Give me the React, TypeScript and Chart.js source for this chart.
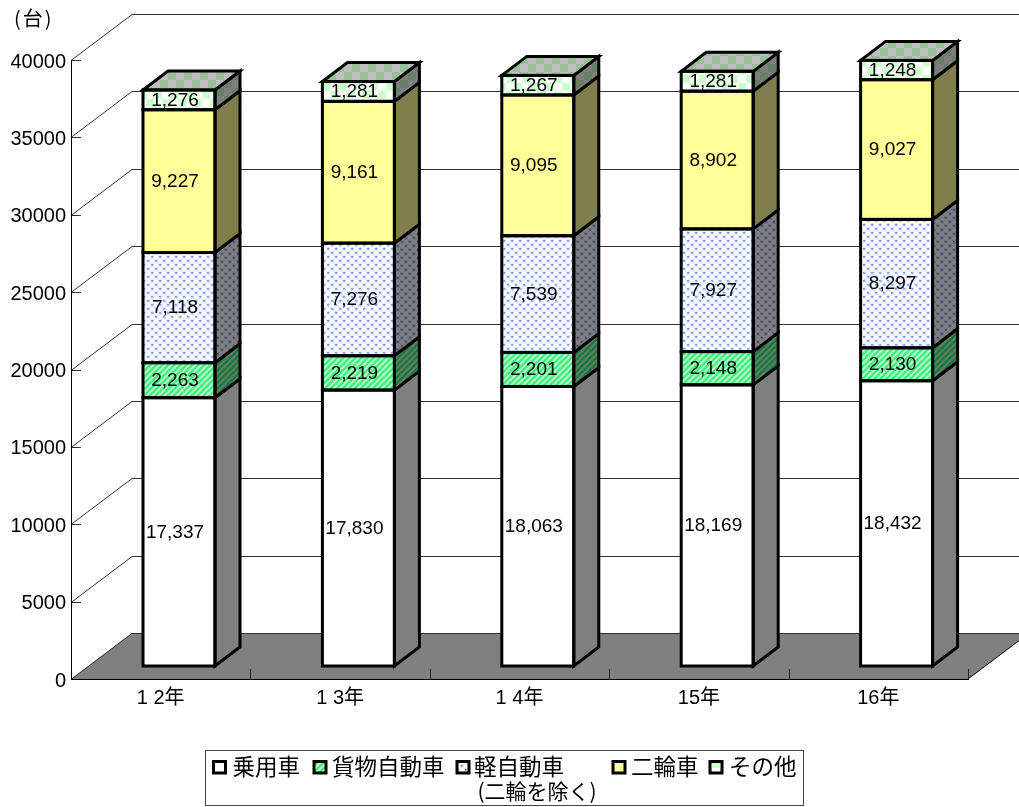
import React, { useEffect, useRef } from "react";
import { Chart, registerables } from "chart.js";

Chart.register(...registerables);

const categories = ["1 2年", "1 3年", "1 4年", "15年", "16年"];
const seriesNames = ["乗用車", "貨物自動車", "軽自動車", "二輪車", "その他"];
const legendNote = "(二輪を除く)";
const unitLabel = "(台)";
const passenger = [17337, 17830, 18063, 18169, 18432];
const cargo = [2263, 2219, 2201, 2148, 2130];
const lightCars = [7118, 7276, 7539, 7927, 8297];
const twoWheel = [9227, 9161, 9095, 8902, 9027];
const other = [1276, 1281, 1267, 1281, 1248];
const yTicksMax = 40000;
const yTickStep = 5000;

const LATIN = '"Liberation Sans", Arial, sans-serif';
const MIXED = '"Liberation Sans", "Noto Sans CJK JP", sans-serif';
const CJK = '"Noto Sans CJK JP", sans-serif';

const WALL = { dx: 61, dy: -46 };
const BAR_DEPTH = { dx: 25, dy: -19 };
const BAR_SHIFT = { dx: 18.3, dy: -13 };

type Kind = "white" | "diag" | "dots" | "yellow" | "check";
const kinds: Kind[] = ["white", "diag", "dots", "yellow", "check"];

function makePattern(kind: Kind, shade: number): CanvasPattern | string {
  const size = kind === "check" ? 16 : kind === "diag" ? 6 : 8;
  const c = document.createElement("canvas");
  c.width = size;
  c.height = size;
  const g = c.getContext("2d")!;
  if (kind === "white") {
    g.fillStyle = "#ffffff";
    g.fillRect(0, 0, size, size);
  } else if (kind === "yellow") {
    g.fillStyle = "#ffff99";
    g.fillRect(0, 0, size, size);
  } else if (kind === "check") {
    g.fillStyle = "#ffffff";
    g.fillRect(0, 0, size, size);
    g.fillStyle = "#ccffcc";
    g.fillRect(0, 0, 8, 8);
    g.fillRect(8, 8, 8, 8);
  } else if (kind === "dots") {
    g.fillStyle = "#ffffff";
    g.fillRect(0, 0, size, size);
    for (const [x, y] of [[1, 1], [5, 5]]) {
      g.fillStyle = "#e2e9ff";
      g.fillRect(x - 1, y - 1, 4, 4);
      g.fillStyle = "#9db4ff";
      g.fillRect(x, y, 2, 2);
      g.fillStyle = "#4a6cf5";
      g.fillRect(x, y, 1, 1);
    }
  } else {
    g.fillStyle = "#c8ffdc";
    g.fillRect(0, 0, size, size);
    g.strokeStyle = "#3fee78";
    g.lineWidth = 2.6;
    for (const o of [-6, 0, 6]) {
      g.beginPath();
      g.moveTo(o - 1, 7);
      g.lineTo(o + 7, -1);
      g.stroke();
    }
  }
  if (shade < 1) {
    g.fillStyle = `rgba(0,0,0,${1 - shade})`;
    g.fillRect(0, 0, size, size);
  }
  return g.createPattern(c, "repeat")!;
}

const scene3d = {
  id: "scene3d",
  beforeDraw(chart: any) {
    const { ctx, chartArea: a, scales } = chart;
    const y = scales.y;
    const zero = y.getPixelForValue(0);
    ctx.save();
    // floor
    ctx.fillStyle = "#808080";
    ctx.beginPath();
    ctx.moveTo(a.left, zero);
    ctx.lineTo(a.right, zero);
    ctx.lineTo(a.right + WALL.dx, zero + WALL.dy);
    ctx.lineTo(a.left + WALL.dx, zero + WALL.dy);
    ctx.closePath();
    ctx.fill();
    // right floor edge
    ctx.strokeStyle = "#000";
    ctx.lineWidth = 1;
    ctx.beginPath();
    ctx.moveTo(a.right, zero);
    ctx.lineTo(a.right + WALL.dx, zero + WALL.dy);
    ctx.stroke();
    // grid lines running over the side wall and the back wall
    ctx.strokeStyle = "#333";
    ctx.lineWidth = 1;
    for (const t of y.ticks) {
      const p = Math.round(y.getPixelForValue(t.value)) + 0.5;
      ctx.beginPath();
      ctx.moveTo(a.left, p);
      ctx.lineTo(a.left + WALL.dx, p + WALL.dy);
      ctx.lineTo(a.right + WALL.dx, p + WALL.dy);
      ctx.stroke();
      // inward tick
      ctx.beginPath();
      ctx.moveTo(a.left, p);
      ctx.lineTo(a.left + 10, p);
      ctx.stroke();
    }
    // inward category ticks
    const n = chart.data.labels.length;
    ctx.strokeStyle = "#222";
    for (let i = 1; i <= n; i++) {
      const x = Math.round(a.left + ((a.right - a.left) * i) / n) + 0.5;
      ctx.beginPath();
      ctx.moveTo(x, zero);
      ctx.lineTo(x, zero - 10);
      ctx.stroke();
    }
    ctx.restore();
  },
  beforeDatasetsDraw(chart: any) {
    chart.ctx.save();
    chart.ctx.translate(BAR_SHIFT.dx, BAR_SHIFT.dy);
  },
  afterDatasetsDraw(chart: any, _args: any, opts: any) {
    const { ctx } = chart;
    ctx.restore();
    ctx.save();
    ctx.lineJoin = "miter";
    ctx.strokeStyle = "#000";
    ctx.lineWidth = 3;
    const count = chart.data.datasets.length;
    chart.data.datasets.forEach((_ds: any, di: number) => {
      const meta = chart.getDatasetMeta(di);
      meta.data.forEach((bar: any) => {
        const { x, y, base, width } = bar.getProps(["x", "y", "base", "width"]);
        const l = x - width / 2 + BAR_SHIFT.dx;
        const r = x + width / 2 + BAR_SHIFT.dx;
        const t = y + BAR_SHIFT.dy;
        const b = base + BAR_SHIFT.dy;
        const d = BAR_DEPTH;
        // side face
        ctx.fillStyle = opts.side[di];
        ctx.beginPath();
        ctx.moveTo(r, t);
        ctx.lineTo(r + d.dx, t + d.dy);
        ctx.lineTo(r + d.dx, b + d.dy);
        ctx.lineTo(r, b);
        ctx.closePath();
        ctx.fill();
        ctx.stroke();
        // top face of the stack
        if (di === count - 1) {
          ctx.fillStyle = opts.top[di];
          ctx.beginPath();
          ctx.moveTo(l, t);
          ctx.lineTo(l + d.dx, t + d.dy);
          ctx.lineTo(r + d.dx, t + d.dy);
          ctx.lineTo(r, t);
          ctx.closePath();
          ctx.fill();
          ctx.stroke();
        }
        // front outline
        ctx.strokeRect(l, t, r - l, b - t);
      });
    });
    // value labels
    ctx.fillStyle = "#000";
    ctx.font = `19px ${LATIN}`;
    ctx.textAlign = "center";
    ctx.textBaseline = "middle";
    chart.data.datasets.forEach((ds: any, di: number) => {
      chart.getDatasetMeta(di).data.forEach((bar: any, i: number) => {
        const { x, y, base } = bar.getProps(["x", "y", "base"]);
        ctx.fillText(
          ds.data[i].toLocaleString("en-US"),
          x + BAR_SHIFT.dx - 4,
          (y + base) / 2 + BAR_SHIFT.dy + 0.5
        );
      });
    });
    ctx.restore();
  },
  afterDraw(chart: any, _args: any, opts: any) {
    const { ctx } = chart;
    ctx.save();
    // unit caption
    ctx.fillStyle = "#000";
    ctx.font = `20px ${CJK}`;
    ctx.textAlign = "left";
    ctx.textBaseline = "middle";
    if ("letterSpacing" in ctx) (ctx as any).letterSpacing = "2px";
    ctx.fillText(unitLabel, 14, 18);
    if ("letterSpacing" in ctx) (ctx as any).letterSpacing = "0px";
    // legend box
    ctx.strokeStyle = "#444";
    ctx.lineWidth = 1;
    ctx.strokeRect(205.5, 750.5, 598, 55);
    const swatchX = [213.5, 314, 457, 613, 710];
    const textX = [232.5, 332, 474, 631, 729];
    ctx.font = `22.5px ${CJK}`;
    ctx.textBaseline = "middle";
    chart.data.datasets.forEach((ds: any, i: number) => {
      ctx.fillStyle = opts.front[i];
      ctx.fillRect(swatchX[i], 761.5, 12, 11.5);
      ctx.strokeStyle = "#000";
      ctx.lineWidth = 3;
      ctx.strokeRect(swatchX[i], 761.5, 12, 11.5);
      ctx.fillStyle = "#000";
      ctx.fillText(ds.label, textX[i], 766);
    });
    ctx.font = `21px ${CJK}`;
    ctx.textAlign = "center";
    ctx.fillText(legendNote, 537, 791);
    ctx.restore();
  },
};

export default function App() {
  const ref = useRef<HTMLCanvasElement>(null);
  useEffect(() => {
    document.body.style.margin = "0";
    document.documentElement.style.overflow = "hidden";
    const front = kinds.map((k) => makePattern(k, 1));
    const top = kinds.map((k) => makePattern(k, 0.75));
    const side = kinds.map((k) => makePattern(k, 0.5));
    const values = [passenger, cargo, lightCars, twoWheel, other];
    const chart = new Chart(ref.current!, {
      type: "bar",
      data: {
        labels: categories,
        datasets: seriesNames.map((label, i) => ({
          label,
          data: values[i],
          backgroundColor: front[i],
          borderWidth: 0,
          inflateAmount: 0,
          clip: false,
          categoryPercentage: 1,
          barPercentage: 0.4013,
        })),
      },
      options: {
        responsive: false,
        animation: false,
        devicePixelRatio: 1,
        layout: { padding: { left: 0, top: 60, right: 51, bottom: 88 } },
        plugins: {
          legend: { display: false },
          title: { display: false },
          tooltip: { enabled: false },
          scene3d: { front, top, side },
        } as any,
        scales: {
          x: {
            stacked: true,
            grid: { display: false, drawTicks: false },
            border: { display: true, color: "#000", width: 1 },
            ticks: {
              autoSkip: false,
              maxRotation: 0,
              padding: 7,
              color: "#000",
              font: { family: MIXED, size: 20 },
            },
            afterFit: (s: any) => {
              s.height = 40;
            },
          },
          y: {
            stacked: true,
            min: 0,
            max: yTicksMax,
            grid: { display: false, drawTicks: false },
            border: { display: true, color: "#000", width: 1 },
            ticks: {
              stepSize: yTickStep,
              padding: 5,
              labelOffset: 2,
              color: "#000",
              font: { family: LATIN, size: 20 },
              callback: (v: any) => String(v),
            },
            afterFit: (s: any) => {
              s.width = 71;
            },
          },
        },
      },
      plugins: [scene3d],
    } as any);
    return () => chart.destroy();
  }, []);
  return (
    <canvas
      ref={ref}
      width={1019}
      height={807}
      style={{ display: "block", width: 1019, height: 807 }}
    />
  );
}
